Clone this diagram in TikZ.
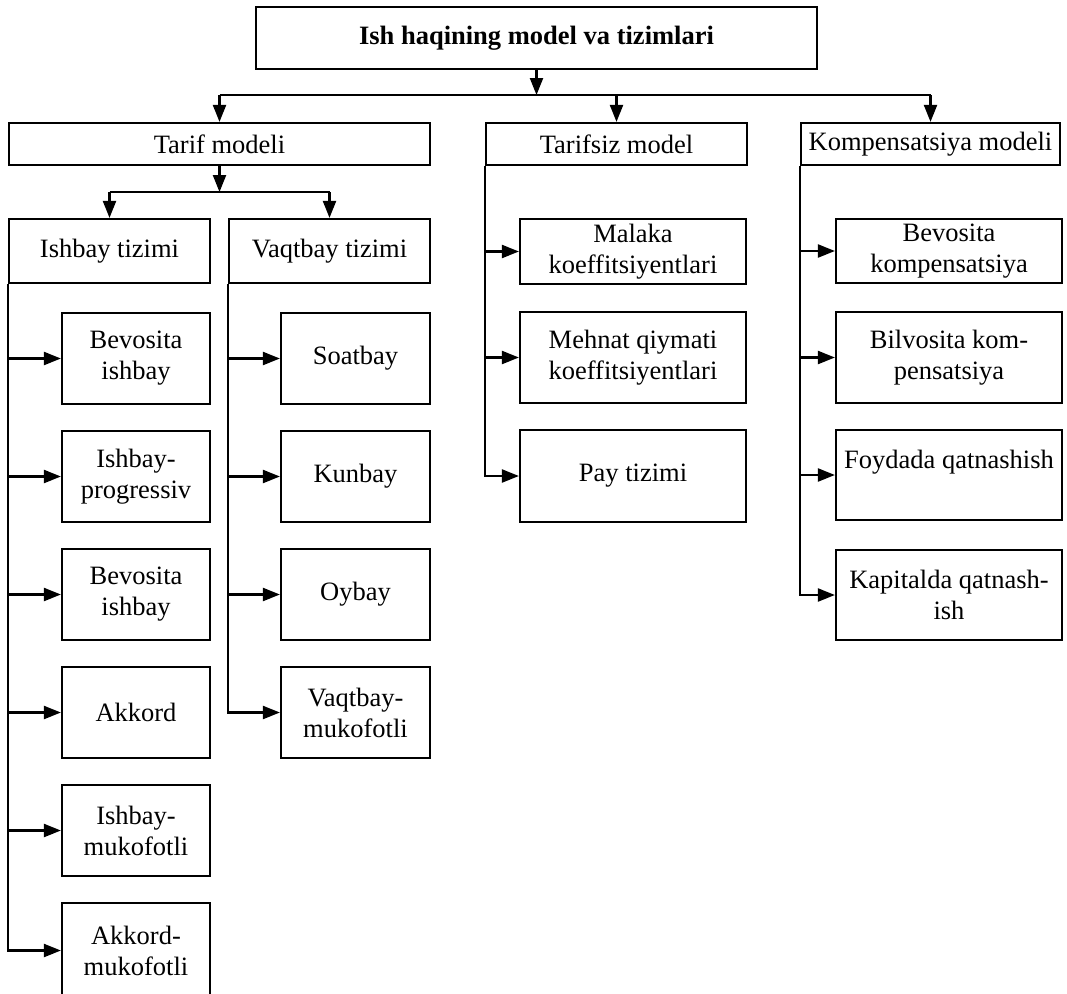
\documentclass[tikz,border=0pt]{standalone}
\usepackage{fontspec}
\setmainfont{Liberation Serif}
\usetikzlibrary{arrows.meta}
\begin{document}
\begin{tikzpicture}[x=1pt,y=-1pt,
  box/.style={draw, line width=2.2pt, align=center, inner sep=2pt,
    font=\fontsize{26.5}{31}\selectfont, anchor=center},
  arr/.style={line width=2.2pt, -{Triangle[length=17pt,width=13pt]}},
  ln/.style={line width=2.2pt}]
\useasboundingbox (0,0) rectangle (1067,993);
\fill[white] (0,0) rectangle (1067,993);

% level 0
\node[box, minimum width=561pt, minimum height=62pt, font=\fontsize{26.5}{31}\selectfont\bfseries] (top) at (536.5,38) {Ish haqining model va tizimlari};

% level 1
\node[box, minimum width=421pt, minimum height=42pt] (tarif) at (219.5,144) {Tarif modeli};
\node[box, minimum width=261pt, minimum height=42pt] (tarifsiz) at (616.5,144) {Tarifsiz model};
\node[box, minimum width=259pt, minimum height=42pt] (komp) at (930.5,144) {Kompensatsiya modeli};

% level 2
\node[box, minimum width=201pt, minimum height=64pt] (ishbay) at (109.5,251) {Ishbay tizimi};
\node[box, minimum width=201pt, minimum height=64pt] (vaqtbay) at (329.5,251) {Vaqtbay tizimi};

% Ishbay children
\node[box, minimum width=148pt, minimum height=91pt] (i1) at (136,358.5) {Bevosita\\ishbay};
\node[box, minimum width=148pt, minimum height=91pt] (i2) at (136,476.5) {Ishbay-\\progressiv};
\node[box, minimum width=148pt, minimum height=91pt] (i3) at (136,594.5) {Bevosita\\ishbay};
\node[box, minimum width=148pt, minimum height=91pt] (i4) at (136,712.5) {Akkord};
\node[box, minimum width=148pt, minimum height=91pt] (i5) at (136,830.5) {Ishbay-\\mukofotli};
\node[box, minimum width=148pt, minimum height=95pt] (i6) at (136,950.5) {Akkord-\\mukofotli};

% Vaqtbay children
\node[box, minimum width=149pt, minimum height=91pt] (v1) at (355.5,358.5) {Soatbay};
\node[box, minimum width=149pt, minimum height=91pt] (v2) at (355.5,476.5) {Kunbay};
\node[box, minimum width=149pt, minimum height=91pt] (v3) at (355.5,594.5) {Oybay};
\node[box, minimum width=149pt, minimum height=91pt] (v4) at (355.5,712.5) {Vaqtbay-\\mukofotli};

% Tarifsiz children
\node[box, minimum width=226pt, minimum height=65pt] (t1) at (633,251.5) {Malaka\\koeffitsiyentlari};
\node[box, minimum width=226pt, minimum height=91pt] (t2) at (633,357.5) {Mehnat qiymati\\koeffitsiyentlari};
\node[box, minimum width=226pt, minimum height=92pt] (t3) at (633,476) {Pay tizimi};

% Kompensatsiya children
\node[box, minimum width=226pt, minimum height=64pt] (k1) at (949,251) {Bevosita\\kompensatsiya};
\node[box, minimum width=226pt, minimum height=91pt] (k2) at (949,357.5) {Bilvosita kom-\\pensatsiya};
\node[box, minimum width=226pt, minimum height=90pt] (k3) at (949,475) {Foydada qatnashish\\\mbox{}};
\node[box, minimum width=226pt, minimum height=90pt] (k4) at (949,595) {Kapitalda qatnash-\\ish};

% buses
\coordinate (bus1) at (0,95);
\coordinate (bus2) at (0,192);

\draw[arr] (top.south) -- (top.south |- bus1);
\draw[ln] (tarif.north |- bus1) -- (komp.north |- bus1);
\draw[arr] (tarif.north |- bus1) -- (tarif.north);
\draw[arr] (tarifsiz.north |- bus1) -- (tarifsiz.north);
\draw[arr] (komp.north |- bus1) -- (komp.north);

\draw[arr] (tarif.south) -- (tarif.south |- bus2);
\draw[ln] (ishbay.north |- bus2) -- (vaqtbay.north |- bus2);
\draw[arr] (ishbay.north |- bus2) -- (ishbay.north);
\draw[arr] (vaqtbay.north |- bus2) -- (vaqtbay.north);

% trunks
\foreach \c in {i1,i2,i3,i4,i5,i6} \draw[arr] (ishbay.south west) |- (\c.west);
\foreach \c in {v1,v2,v3,v4} \draw[arr] (vaqtbay.south west) |- (\c.west);
\foreach \c in {t1,t2,t3} \draw[arr] (tarifsiz.south west) |- (\c.west);
\foreach \c in {k1,k2,k3,k4} \draw[arr] (komp.south west) |- (\c.west);
\end{tikzpicture}
\end{document}
